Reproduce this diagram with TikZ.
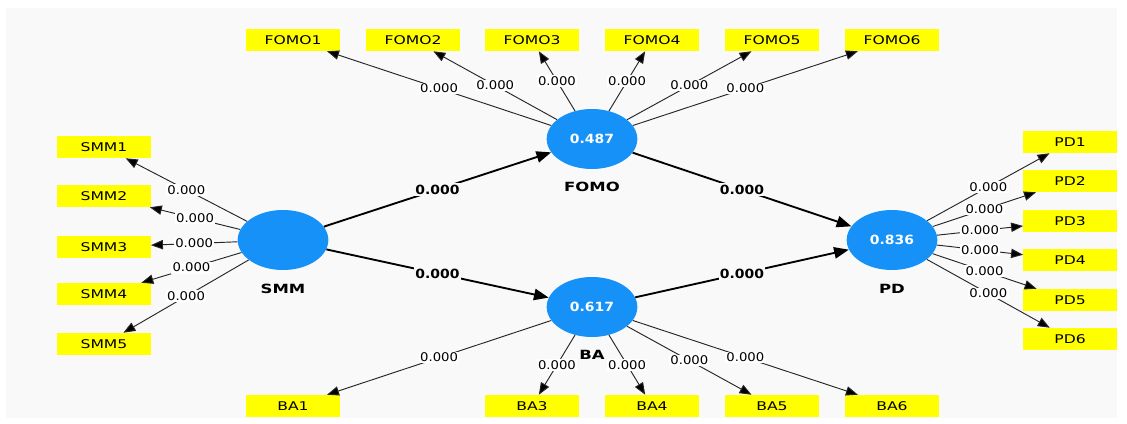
\documentclass[tikz,border=0pt]{standalone}
\usepackage{fontspec}
\setmainfont{DejaVu Sans}
\newfontfamily\wordfont{DejaVu Sans}[FakeStretch=1.3]
\newfontfamily\numfont{DejaVu Sans}[FakeStretch=1.1]
\usepackage{tikz}
\usetikzlibrary{arrows.meta,shapes.geometric}

\definecolor{lvblue}{RGB}{21,145,248}
\definecolor{mvyellow}{RGB}{255,255,0}
\definecolor{canvas}{RGB}{249,249,249}

\begin{document}
\begin{tikzpicture}[
  x=0.75pt, y=-0.75pt,
  lnode/.style={fill=lvblue,ellipse,minimum width=68pt,minimum height=45pt,inner sep=0pt,
    text=white,font=\numfont\fontsize{9.5}{11}\selectfont\bfseries},
  lname/.style={font=\wordfont\fontsize{9.5}{11}\selectfont\bfseries},
  mnode/.style={fill=mvyellow,rectangle,minimum width=70pt,minimum height=16.5pt,inner sep=0pt,
    font=\wordfont\fontsize{9}{11}\selectfont},
  outer/.style={draw=black!85,line width=0.7pt,-{Triangle[length=9pt,width=7pt]}},
  inner/.style={draw=black,line width=1.4pt,-{Triangle[length=11pt,width=8.5pt]}},
  wlab/.style={fill=white,inner sep=1pt,font=\numfont\fontsize{9}{11}\selectfont},
  blab/.style={fill=canvas,inner sep=1pt,font=\numfont\fontsize{9.5}{11}\selectfont\bfseries}
]
  \useasboundingbox (0,0) rectangle (1127,424);
  \fill[canvas] (6,8) rectangle (1117,418);

  % latent variables
  \node[lnode] (smm) at (283,240) {};
  \node[lnode] (fomo) at (592,139) {0.487};
  \node[lnode] (ba) at (592,307) {0.617};
  \node[lnode] (pd) at (892,240) {0.836};

  % latent names
  \node[lname] (smmname) at (283,289) {SMM};
  \node[lname] (fomoname) at (592,187) {FOMO};
  \node[lname] (baname) at (592,355) {BA};
  \node[lname] (pdname) at (892,289) {PD};

  % SMM indicators
  \node[mnode] (smm1) at (104,147) {SMM1};
  \node[mnode] (smm2) at (104,196) {SMM2};
  \node[mnode] (smm3) at (104,247) {SMM3};
  \node[mnode] (smm4) at (104,294) {SMM4};
  \node[mnode] (smm5) at (104,344) {SMM5};

  % FOMO indicators
  \node[mnode] (fomo1) at (293,40) {FOMO1};
  \node[mnode] (fomo2) at (413,40) {FOMO2};
  \node[mnode] (fomo3) at (532,40) {FOMO3};
  \node[mnode] (fomo4) at (652,40) {FOMO4};
  \node[mnode] (fomo5) at (772,40) {FOMO5};
  \node[mnode] (fomo6) at (892,40) {FOMO6};

  % BA indicators
  \node[mnode] (ba1) at (293,406) {BA1};
  \node[mnode] (ba3) at (532,406) {BA3};
  \node[mnode] (ba4) at (652,406) {BA4};
  \node[mnode] (ba5) at (772,406) {BA5};
  \node[mnode] (ba6) at (892,406) {BA6};

  % PD indicators
  \node[mnode] (pd1) at (1070,142) {PD1};
  \node[mnode] (pd2) at (1070,181) {PD2};
  \node[mnode] (pd3) at (1070,221) {PD3};
  \node[mnode] (pd4) at (1070,260) {PD4};
  \node[mnode] (pd5) at (1070,300) {PD5};
  \node[mnode] (pd6) at (1070,339) {PD6};

  % outer edges
  \draw[outer] (smm) edge node[wlab] {0.000} (smm1);
  \draw[outer] (smm) edge node[wlab] {0.000} (smm2);
  \draw[outer] (smm) edge node[wlab] {0.000} (smm3);
  \draw[outer] (smm) edge node[wlab] {0.000} (smm4);
  \draw[outer] (smm) edge node[wlab] {0.000} (smm5);

  \draw[outer] (fomo) edge node[wlab] {0.000} (fomo1);
  \draw[outer] (fomo) edge node[wlab] {0.000} (fomo2);
  \draw[outer] (fomo) edge node[wlab] {0.000} (fomo3);
  \draw[outer] (fomo) edge node[wlab] {0.000} (fomo4);
  \draw[outer] (fomo) edge node[wlab] {0.000} (fomo5);
  \draw[outer] (fomo) edge node[wlab] {0.000} (fomo6);

  \draw[outer] (ba) edge node[wlab] {0.000} (ba1);
  \draw[outer] (ba) edge node[wlab] {0.000} (ba3);
  \draw[outer] (ba) edge node[wlab] {0.000} (ba4);
  \draw[outer] (ba) edge node[wlab] {0.000} (ba5);
  \draw[outer] (ba) edge node[wlab] {0.000} (ba6);

  \draw[outer] (pd) edge node[wlab] {0.000} (pd1);
  \draw[outer] (pd) edge node[wlab] {0.000} (pd2);
  \draw[outer] (pd) edge node[wlab] {0.000} (pd3);
  \draw[outer] (pd) edge node[wlab] {0.000} (pd4);
  \draw[outer] (pd) edge node[wlab] {0.000} (pd5);
  \draw[outer] (pd) edge node[wlab] {0.000} (pd6);

  % structural edges
  \draw[inner] (smm) edge node[blab] {0.000} (fomo);
  \draw[inner] (smm) edge node[blab] {0.000} (ba);
  \draw[inner] (fomo) edge node[blab] {0.000} (pd);
  \draw[inner] (ba) edge node[blab] {0.000} (pd);

\end{tikzpicture}
\end{document}
